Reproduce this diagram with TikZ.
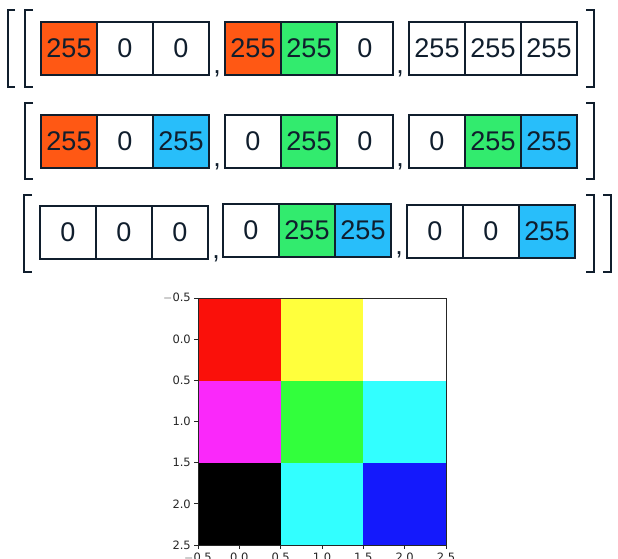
\documentclass[tikz,border=0pt]{standalone}
\usepackage{fontspec}
\newfontfamily\cellfont{Liberation Sans}
\newfontfamily\plotfont{DejaVu Sans}
\usepackage{tikz}
\usetikzlibrary{ positioning, % For easy node-relative placements
               }
\definecolor{ink}{RGB}{16,30,45}
\definecolor{orng}{RGB}{255,88,20}
\definecolor{grn}{RGB}{50,235,110}
\definecolor{sky}{RGB}{40,190,250}
\definecolor{pred}{RGB}{250,16,10}
\definecolor{pyellow}{RGB}{255,255,60}
\definecolor{pmagenta}{RGB}{250,40,250}
\definecolor{pgreen}{RGB}{50,255,60}
\definecolor{pcyan}{RGB}{50,255,255}
\definecolor{pblue}{RGB}{20,25,252}
\definecolor{tickgray}{RGB}{38,38,38}
\tikzstyle{cell} = [rectangle, draw=ink, line width=2pt, minimum width=56pt, minimum height=53pt, inner sep=0pt, outer sep=0pt, text=ink, font=\cellfont\fontsize{27}{27}\selectfont]
\tikzstyle{comma} = [anchor=base, inner sep=0pt, text=ink, font=\cellfont\fontsize{27}{27}\selectfont]
\tikzstyle{bracket} = [draw=ink, line width=2.5pt]
\tikzstyle{pixel} = [rectangle, minimum size=82.67pt, inner sep=0pt, outer sep=0pt]
\tikzstyle{ticklabel} = [inner sep=0pt, text=tickgray, font=\plotfont\fontsize{11.5}{11.5}\selectfont]

\begin{document}
\begin{tikzpicture}[x=1pt, y=-1pt, node distance=0pt]
  \useasboundingbox (0,0) rectangle (618,558);
  % array of pixel values, one group per pixel
  \foreach \n/\x/\y/\v/\c in {
      a1/69/48/255/orng, a2/253/48/255/orng, a3/437/48/255/white,
      b1/69/141/255/orng, b2/253/141/0/white, b3/437/141/0/white,
      c1/68/232/0/white, c2/251/230/0/white, c3/435/231/0/white}
    \node (\n) [cell, fill=\c] at (\x, \y) {\v};
  \node (a1g) [cell, right=of a1] {0};
  \node (a1b) [cell, right=of a1g] {0};
  \node (a2g) [cell, fill=grn, right=of a2] {255};
  \node (a2b) [cell, right=of a2g] {0};
  \node (a3g) [cell, right=of a3] {255};
  \node (a3b) [cell, right=of a3g] {255};
  \node (b1g) [cell, right=of b1] {0};
  \node (b1b) [cell, fill=sky, right=of b1g] {255};
  \node (b2g) [cell, fill=grn, right=of b2] {255};
  \node (b2b) [cell, right=of b2g] {0};
  \node (b3g) [cell, fill=grn, right=of b3] {255};
  \node (b3b) [cell, fill=sky, right=of b3g] {255};
  \node (c1g) [cell, right=of c1] {0};
  \node (c1b) [cell, right=of c1g] {0};
  \node (c2g) [cell, fill=grn, right=of c2] {255};
  \node (c2b) [cell, fill=sky, right=of c2g] {255};
  \node (c3g) [cell, right=of c3] {0};
  \node (c3b) [cell, fill=sky, right=of c3g] {255};

  % commas between pixels
  \node (ka1) [comma] at (217, 73) {,};
  \node (ka2) [comma] at (400, 73) {,};
  \node (kb1) [comma] at (217, 166) {,};
  \node (kb2) [comma] at (400, 166) {,};
  \node (kc1) [comma] at (216, 258) {,};
  \node (kc2) [comma] at (399, 254) {,};

  % brackets
  \draw [bracket] (15, 10) -- (8, 10) -- (8, 87) -- (15, 87);
  \draw [bracket] (33, 10) -- (25, 10) -- (25, 87) -- (33, 87);
  \draw [bracket] (586, 10) -- (594, 10) -- (594, 87) -- (586, 87);
  \draw [bracket] (33, 103) -- (25, 103) -- (25, 179) -- (33, 179);
  \draw [bracket] (586, 103) -- (594, 103) -- (594, 179) -- (586, 179);
  \draw [bracket] (32, 195) -- (24, 195) -- (24, 272) -- (32, 272);
  \draw [bracket] (586, 195) -- (594, 195) -- (594, 272) -- (586, 272);
  \draw [bracket] (603, 195) -- (611, 195) -- (611, 272) -- (603, 272);

  % image plot
  \foreach \n/\x/\y/\c in {
      p11/0/0/pred, p12/1/0/pyellow, p13/2/0/white,
      p21/0/1/pmagenta, p22/1/1/pgreen, p23/2/1/pcyan,
      p31/0/2/black, p32/1/2/pcyan, p33/2/2/pblue}
    \node (\n) [pixel, fill=\c] at (239.33+82.67*\x, 339.33+82.67*\y) {};
  \draw [tickgray, line width=0.8pt] (198, 298) rectangle (446, 545);
  \foreach \t [count=\i from 0] in {$-$0.5, 0.0, 0.5, 1.0, 1.5, 2.0, 2.5} {
    \draw [tickgray, line width=0.8pt] (198, 298+41.17*\i) -- (194, 298+41.17*\i);
    \node (yl\i) [ticklabel, anchor=east] at (191, 298+41.17*\i) {\t};
    \draw [tickgray, line width=0.8pt] (198+41.33*\i, 545) -- (198+41.33*\i, 549);
    \node (xl\i) [ticklabel, anchor=north] at (198+41.33*\i, 553) {\t};
  }
\end{tikzpicture}
\end{document}
